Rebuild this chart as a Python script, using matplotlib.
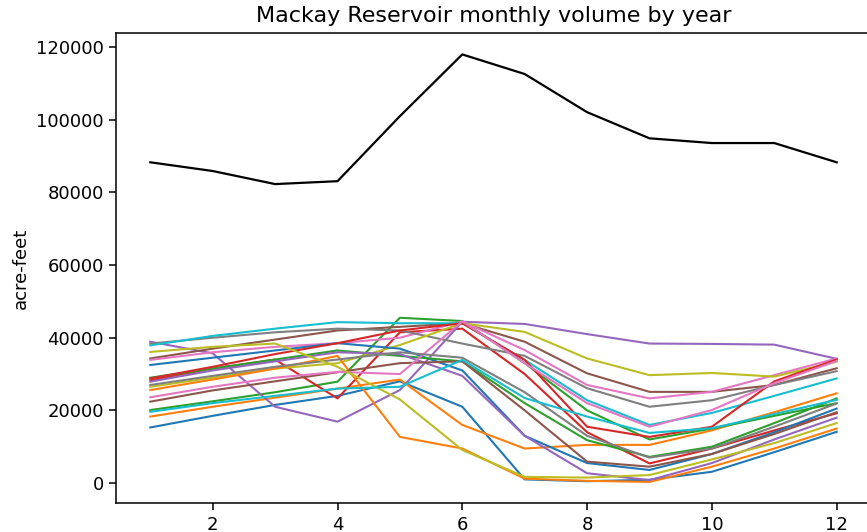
import numpy as np
import matplotlib
matplotlib.use("Agg")
import matplotlib.pyplot as plt

# months on the x axis
months = np.arange(1, 13)

# one line per year (acre-feet)
blue_a   = [15300, 18500, 21500, 24000, 28000, 21000, 1000, 500, 900, 3100, 8500, 14100]
orange_a = [18300, 21000, 23500, 26000, 28500, 16000, 9500, 10500, 10500, 14500, 19500, 24700]
green_a  = [20100, 22500, 25000, 27900, 45500, 44600, 33000, 20000, 12000, 15000, 18500, 22000]
red_a    = [28300, 31500, 34000, 23300, 41500, 42500, 30000, 14000, 5400, 9500, 14500, 19200]
purple_a = [38900, 35700, 21000, 16900, 25600, 44400, 43800, 41000, 38400, 38300, 38100, 34200]
brown_a  = [34300, 37000, 39500, 42000, 43000, 44000, 38900, 30200, 25100, 25100, 27000, 31600]
pink_a   = [33900, 36000, 37500, 38500, 40000, 44500, 36600, 27000, 23300, 25100, 29700, 34300]
gray_a   = [38400, 40000, 41500, 42500, 42000, 38400, 35000, 26100, 21000, 22800, 27000, 30800]
olive_a  = [26500, 29000, 31500, 33000, 38000, 44000, 41600, 34300, 29700, 30300, 29300, 33400]
cyan_a   = [37900, 40500, 42500, 44300, 44000, 44000, 33900, 22800, 16000, 19300, 24000, 28800]
blue_b   = [32500, 34500, 36500, 38500, 37000, 31000, 13000, 5500, 3600, 8000, 14000, 20500]
orange_b = [25600, 28500, 31500, 35000, 12700, 9500, 1200, 600, 300, 4500, 9500, 15000]
green_b  = [29000, 31500, 34000, 36500, 35000, 33500, 22000, 11800, 7200, 10000, 16500, 23300]
red_b    = [28800, 32000, 35500, 38500, 42000, 44000, 33900, 15500, 12700, 15500, 28000, 34000]
purple_b = [27900, 31000, 33500, 36000, 35500, 29500, 13000, 2700, 800, 5500, 12000, 18000]
brown_b  = [22400, 25500, 28000, 30500, 33000, 33500, 20000, 5900, 4500, 8000, 13500, 19500]
pink_b   = [23600, 26500, 29000, 30600, 30000, 44500, 33000, 22000, 15500, 20100, 27500, 33600]
gray_b   = [27000, 29500, 32000, 34000, 36000, 34500, 25000, 13000, 7000, 9500, 15500, 21900]
olive_b  = [36100, 37500, 38400, 32000, 23000, 9100, 1700, 1500, 2200, 6500, 11000, 16500]
cyan_b   = [19600, 22000, 24000, 26000, 26500, 33900, 23400, 18300, 13800, 15100, 19000, 22900]

years = [blue_a, orange_a, green_a, red_a, purple_a, brown_a, pink_a, gray_a, olive_a, cyan_a,
         blue_b, orange_b, green_b, red_b, purple_b, brown_b, pink_b, gray_b, olive_b, cyan_b]

# the black line on top
black = [88300, 85900, 82300, 83100, 101000, 118000, 112600, 102100, 94900, 93600, 93600, 88300]

fig = plt.figure(figsize=(8.67, 5.32), dpi=100)
ax = fig.add_axes([0.1338, 0.0539, 0.8708, 0.884])

for y in years:
    ax.plot(months, y, lw=1.5)
ax.plot(months, black, color='k', lw=1.6)

ax.set_title("Mackay Reservoir monthly volume by year", fontsize=16, pad=8)
ax.set_ylabel("acre-feet", fontsize=13)
ax.tick_params(labelsize=13, length=4.8, width=1.1, pad=4)
for s in ax.spines.values():
    s.set_linewidth(1.1)

plt.savefig("out.png", dpi=100)
